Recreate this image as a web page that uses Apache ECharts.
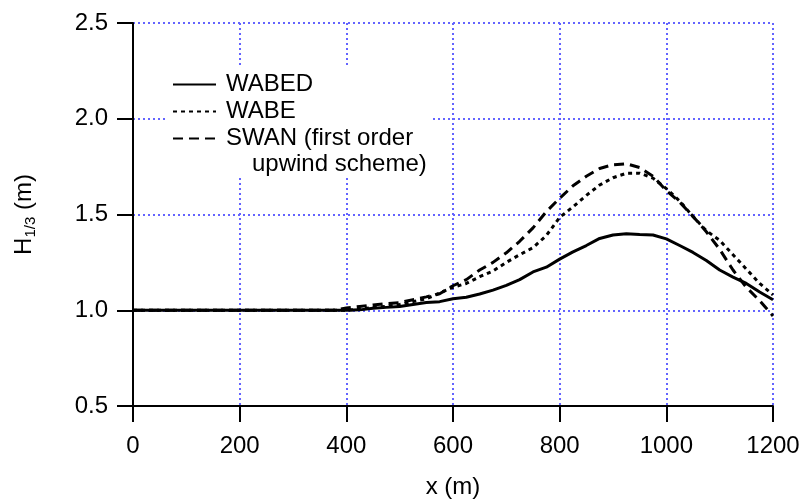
<!DOCTYPE html>
<html>
<head>
<meta charset="utf-8">
<script src="https://cdn.jsdelivr.net/npm/echarts@6/dist/echarts.min.js"></script>
<style>html,body{margin:0;padding:0;background:#fff}#c{width:807px;height:504px}</style>
</head>
<body>
<div id="c"></div>
<script>
const xPos = [0,25,50,75,100,125,150,175,200,225,250,275,300,325,350,375,400,425,450,475,500,525,550,575,600,625,650,675,700,725,750,775,800,825,850,875,900,925,950,975,1000,1025,1050,1075,1100,1125,1150,1175,1200];
const wabed = [1,1,1,1,1,1,1,1,1,1,1,1,1,1,1,1,1,1.002,1.01,1.015,1.02,1.03,1.04,1.045,1.06,1.068,1.085,1.105,1.13,1.16,1.2,1.225,1.267,1.305,1.338,1.375,1.393,1.4,1.396,1.393,1.373,1.338,1.302,1.26,1.21,1.173,1.14,1.095,1.055];
const wabe = [1,1,1,1,1,1,1,1,1,1,1,1,1,1,1,1,1,1.005,1.015,1.02,1.03,1.045,1.06,1.09,1.12,1.14,1.175,1.205,1.25,1.29,1.327,1.39,1.485,1.54,1.6,1.654,1.692,1.715,1.716,1.69,1.635,1.57,1.49,1.415,1.365,1.29,1.215,1.14,1.08];
const swan = [1,1,1,1,1,1,1,1,1,1,1,1,1,1,1,1,1.012,1.02,1.028,1.035,1.04,1.055,1.07,1.086,1.128,1.16,1.21,1.25,1.3,1.36,1.43,1.515,1.585,1.65,1.7,1.74,1.76,1.765,1.745,1.7,1.625,1.565,1.49,1.41,1.318,1.21,1.12,1.05,0.97];
const xTicks = [0,200,400,600,800,1000,1200];
const yTicks = [0.5,1.0,1.5,2.0,2.5];
const seriesNames = ['WABED','WABE','SWAN'];
const legendLabels = {WABED:'WABED', WABE:'WABE', SWAN:'SWAN (first order'};
const legendCont = 'upwind scheme)';

const FONT = 'Liberation Sans, Arial, Helvetica, sans-serif';
const pair = arr => xPos.map((x,i)=>[x, arr[i]]);
const gridColor = '#6464ff';

const chart = echarts.init(document.getElementById('c'), null, {renderer:'canvas'});
chart.setOption({
  animation:false,
  backgroundColor:'#fff',
  textStyle:{fontFamily:FONT},
  grid:{left:133, right:34, top:23, bottom:95, containLabel:false},
  xAxis:{
    type:'value', min:xTicks[0], max:xTicks[xTicks.length-1], interval:200,
    name:'x (m)', nameLocation:'middle', nameGap:69,
    nameTextStyle:{fontSize:24, color:'#000', fontFamily:FONT},
    axisLine:{show:true, onZero:false, lineStyle:{color:'#000', width:2}},
    axisTick:{show:true, inside:false, length:16, lineStyle:{color:'#000', width:2}},
    axisLabel:{fontSize:24, color:'#000', margin:28, fontFamily:FONT, formatter:v=>String(v)},
    splitLine:{show:true, lineStyle:{color:gridColor, width:2, type:[2,3]}}
  },
  yAxis:{
    type:'value', min:yTicks[0], max:yTicks[yTicks.length-1], interval:0.5,
    name:'{a|H}{b|1/3}{a| (m)}', nameLocation:'middle', nameGap:95, nameRotate:90,
    nameTextStyle:{color:'#000', fontFamily:FONT, rich:{
      a:{fontSize:24, color:'#000', fontFamily:FONT},
      b:{fontSize:15, color:'#000', fontFamily:FONT, padding:[12,0,0,0]}
    }},
    axisLine:{show:true, onZero:false, lineStyle:{color:'#000', width:2}},
    axisTick:{show:true, inside:false, length:16, lineStyle:{color:'#000', width:2}},
    axisLabel:{fontSize:24, color:'#000', margin:25, fontFamily:FONT, formatter:v=>v.toFixed(1)},
    splitLine:{show:true, lineStyle:{color:gridColor, width:2, type:[2,3]}}
  },
  legend:{
    show:true, orient:'vertical', left:172, top:71, padding:0, itemGap:0,
    itemWidth:43, itemHeight:14,
    data:seriesNames,
    formatter:n=>legendLabels[n],
    itemStyle:{opacity:0},
    textStyle:{fontSize:24, color:'#000', fontFamily:FONT, lineHeight:27, padding:[0,0,0,5]}
  },
  graphic:[
    {type:'rect', left:168, top:65, shape:{width:263, height:112}, style:{fill:'#fff'}, z:3, silent:true},
    {type:'text', left:252, top:152, z:10, style:{text:legendCont, fontSize:24, fontFamily:FONT, fill:'#000'}}
  ],
  series:[
    {name:seriesNames[0], type:'line', data:pair(wabed), symbol:'none', smooth:false,
     lineStyle:{color:'#000', width:3, type:'solid'}, itemStyle:{color:'#000'}, z:5},
    {name:seriesNames[1], type:'line', data:pair(wabe), symbol:'none', smooth:false,
     lineStyle:{color:'#000', width:3, type:[4,4]}, itemStyle:{color:'#000'}, z:5},
    {name:seriesNames[2], type:'line', data:pair(swan), symbol:'none', smooth:false,
     lineStyle:{color:'#000', width:3, type:[10,6]}, itemStyle:{color:'#000'}, z:5}
  ]
});
</script>
</body>
</html>
